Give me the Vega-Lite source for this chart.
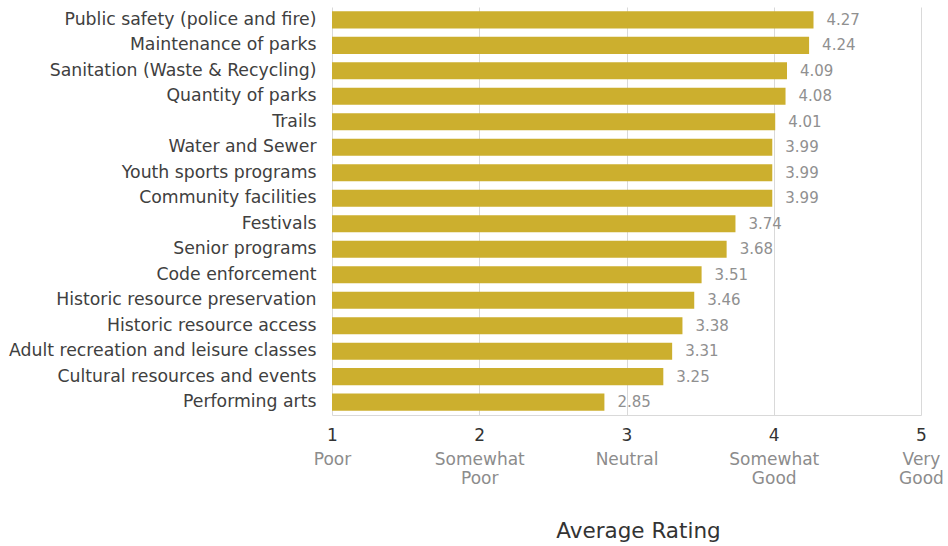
{
  "$schema": "https://vega.github.io/schema/vega-lite/v6.json",
  "width": 589,
  "height": 408,
  "autosize": {"type": "none"},
  "padding": {"left": 332, "top": 7, "right": 27, "bottom": 131},
  "config": {"font": "DejaVu Sans", "view": {"stroke": null}},
  "data": {"values": [
    {"item": "Public safety (police and fire)", "rating": 4.27},
    {"item": "Maintenance of parks", "rating": 4.24},
    {"item": "Sanitation (Waste & Recycling)", "rating": 4.09},
    {"item": "Quantity of parks", "rating": 4.08},
    {"item": "Trails", "rating": 4.01},
    {"item": "Water and Sewer", "rating": 3.99},
    {"item": "Youth sports programs", "rating": 3.99},
    {"item": "Community facilities", "rating": 3.99},
    {"item": "Festivals", "rating": 3.74},
    {"item": "Senior programs", "rating": 3.68},
    {"item": "Code enforcement", "rating": 3.51},
    {"item": "Historic resource preservation", "rating": 3.46},
    {"item": "Historic resource access", "rating": 3.38},
    {"item": "Adult recreation and leisure classes", "rating": 3.31},
    {"item": "Cultural resources and events", "rating": 3.25},
    {"item": "Performing arts", "rating": 2.85}
  ]},
  "resolve": {"axis": {"x": "independent"}},
  "layer": [
    {
      "mark": {"type": "bar", "color": "#CCAF2E"},
      "encoding": {
        "y": {"field": "item", "type": "nominal", "sort": null,
          "scale": {"paddingInner": 0.33, "paddingOuter": 0.17},
          "axis": {"title": null, "domain": false, "ticks": false, "labelFontSize": 17.3, "labelColor": "#404040", "labelPadding": 16, "labelLimit": 400}},
        "x": {"field": "rating", "type": "quantitative",
          "scale": {"domain": [1, 5], "nice": false, "zero": false},
          "axis": {"values": [1, 2, 3, 4, 5], "format": "d", "title": "Average Rating", "grid": true, "gridColor": "#d9d9d9", "domainColor": "#d9d9d9", "ticks": false,
            "labelFontSize": 17, "labelColor": "#333333", "labelPadding": 12, "labelFlush": false, "labelAlign": "center",
            "titleFontSize": 21.5, "titleFontWeight": "normal", "titleColor": "#333333", "titlePadding": 77, "titleX": 306}},
        "x2": {"datum": 1}
      }
    },
    {
      "mark": {"type": "text", "align": "left", "dx": 13, "fontSize": 15, "color": "#909090"},
      "encoding": {
        "y": {"field": "item", "type": "nominal", "sort": null},
        "x": {"field": "rating", "type": "quantitative", "axis": null},
        "text": {"field": "rating", "type": "quantitative", "format": ".2f"}
      }
    },
    {
      "mark": {"type": "rule", "opacity": 0},
      "encoding": {
        "x": {"field": "rating", "type": "quantitative",
          "axis": {"orient": "bottom", "values": [1, 2, 3, 4, 5], "title": null, "grid": false, "domain": false, "ticks": false,
            "labelFontSize": 17, "labelColor": "#8c8c8c", "labelPadding": 36, "labelBaseline": "top", "labelLineHeight": 19,
            "labelFlush": false, "labelAlign": "center", "labelOverlap": false, "labelBound": false,
            "labelExpr": "datum.value == 1 ? ['Poor'] : datum.value == 2 ? ['Somewhat', 'Poor'] : datum.value == 3 ? ['Neutral'] : datum.value == 4 ? ['Somewhat', 'Good'] : ['Very', 'Good']"}}
      }
    }
  ]
}
